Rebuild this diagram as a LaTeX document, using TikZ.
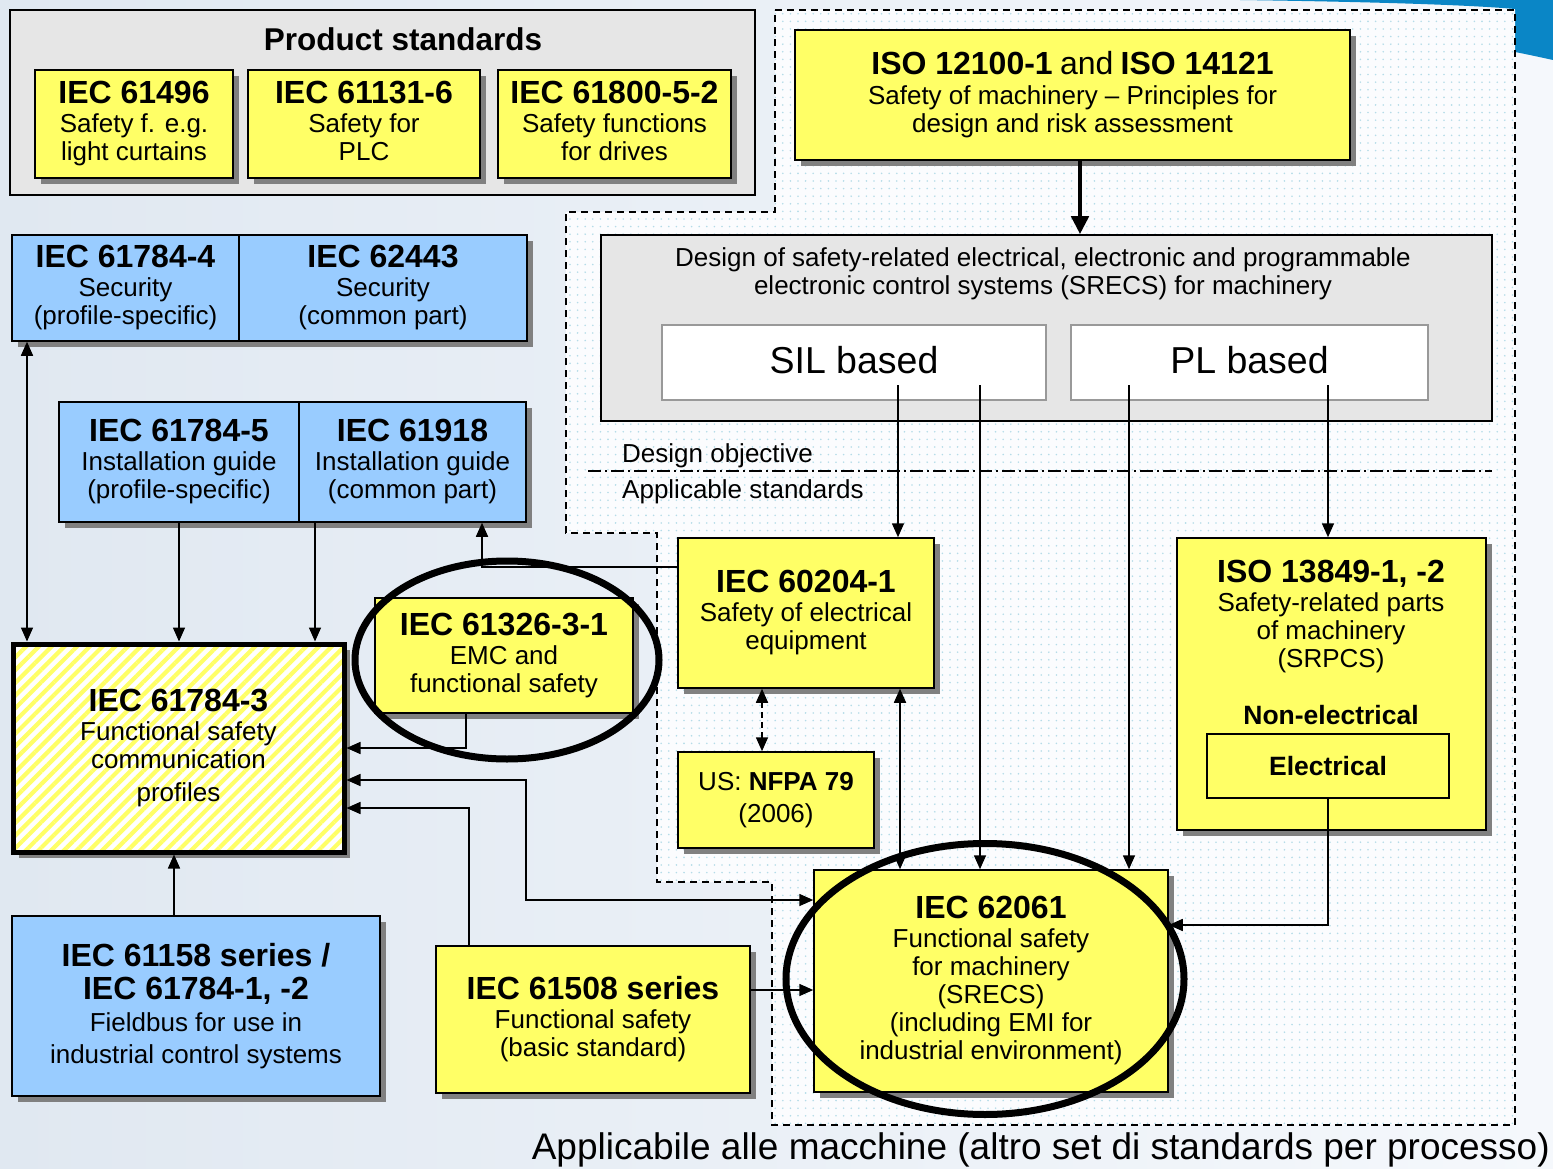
\documentclass[tikz,border=0pt]{standalone}
\usepackage{fontspec}
\setmainfont{Liberation Sans}
\usetikzlibrary{arrows.meta,shapes.geometric,shadows,patterns.meta,calc}
\definecolor{ylw}{HTML}{FFFF66}
\definecolor{blu}{HTML}{99CCFF}
\definecolor{gry}{HTML}{E6E6E6}
\definecolor{shd}{HTML}{808080}
\definecolor{dotc}{HTML}{B5DCE8}
\definecolor{bgl}{HTML}{E0E8F1}
\definecolor{bgr}{HTML}{F5F8FC}
\definecolor{swoosh}{HTML}{0A86C6}
\newcommand{\hd}[1]{{\fontsize{32}{28}\selectfont\bfseries #1}}
\tikzset{
  stdbox/.style={draw=black, line width=1.5pt, align=center, inner sep=0pt,
    font=\fontsize{26}{28}\selectfont,
    drop shadow={shadow xshift=6pt, shadow yshift=-6pt, opacity=1, fill=shd}},
  ybox/.style={stdbox, fill=ylw},
  bbox/.style={stdbox, fill=blu},
  plain/.style={draw=black, line width=1.5pt, inner sep=0pt, align=center},
  txt/.style={inner sep=0pt, align=center, font=\fontsize{26}{28}\selectfont},
  conn/.style={line width=1.6pt, -{Triangle[length=14pt,width=12pt]}},
  conn2/.style={line width=1.6pt, {Triangle[length=14pt,width=12pt]}-{Triangle[length=14pt,width=12pt]}},
  thickarr/.style={line width=4.5pt, -{Triangle[length=18pt,width=17pt]}},
  ring/.style={ellipse, draw=black, line width=7pt, inner sep=0pt},
}
\begin{document}
\begin{tikzpicture}[x=1pt,y=-1pt]
\useasboundingbox (0,0) rectangle (1553,1169);
% background
\shade[left color=bgl, right color=bgr] (0,0) rectangle (1553,1169);
\fill[swoosh] (1240,0) .. controls (1380,2) and (1470,5) .. (1515,9) -- (1515,52) .. controls (1530,55) .. (1553,60) -- (1553,0) -- cycle;
% machinery region
\path[fill=white!60!bgr] (775,10) -- (1515,10) -- (1515,1125) -- (772,1125) -- (772,882) -- (657,882) -- (657,533) -- (566,533) -- (566,212) -- (775,212) -- cycle;
\path[pattern={Dots[distance=7.6pt, radius=0.9pt]}, pattern color=dotc] (775,10) -- (1515,10) -- (1515,1125) -- (772,1125) -- (772,882) -- (657,882) -- (657,533) -- (566,533) -- (566,212) -- (775,212) -- cycle;
\draw[line width=1.6pt, dash pattern=on 7pt off 5pt] (775,10) -- (1515,10) -- (1515,1125) -- (772,1125) -- (772,882) -- (657,882) -- (657,533) -- (566,533) -- (566,212) -- (775,212) -- cycle;

% product standards
\node[plain, fill=gry, minimum width=745pt, minimum height=185pt] (ps) at (382.5,102.5) {};
\node[txt, font=\fontsize{31.5}{32}\selectfont\bfseries] (pst) at (403,39) {Product standards};
\node[ybox, minimum width=198pt, minimum height=108pt] (b61496) at (134,124) {\hd{IEC 61496}\\[1pt]Safety f. e.g.\\light curtains};
\node[ybox, minimum width=232pt, minimum height=108pt] (b61131) at (364,124) {\hd{IEC 61131-6}\\[1pt]Safety for\\PLC\vphantom{g}};
\node[ybox, minimum width=233pt, minimum height=108pt] (b61800) at (614.5,124) {\hd{IEC 61800-5-2}\\[1pt]Safety functions\\for drives\vphantom{g}};

% ISO
\node[ybox, minimum width=555pt, minimum height=130pt] (iso) at (1072.5,95) {\hd{ISO 12100-1} {\fontsize{32}{28}\selectfont and} \hd{ISO 14121}\\[2pt]Safety of machinery – Principles for\\design and risk assessment};

% design box
\node[plain, fill=gry, minimum width=891pt, minimum height=186pt] (design) at (1046.5,328) {};
\node[txt] (destxt) at (1043,274) {Design of safety-related electrical, electronic and programmable\\electronic control systems (SRECS) for machinery};
\node[draw=black!40, line width=2pt, fill=white, minimum width=384pt, minimum height=75pt, font=\fontsize{37.5}{40}\selectfont] (sil) at (854,362.5) {\raisebox{5pt}{SIL based}};
\node[draw=black!40, line width=2pt, fill=white, minimum width=357pt, minimum height=75pt, font=\fontsize{37.5}{40}\selectfont] (pl) at (1249.5,362.5) {\raisebox{5pt}{PL based}};

% design objective line
\coordinate (dl) at (588,471);
\coordinate (dr) at (1492,471);
\draw[line width=1.4pt, dash pattern=on 13pt off 4pt on 2pt off 4pt] (dl) -- (dr);
\node[txt, anchor=west] (dobj) at (622,456) {Design objective};
\node[txt, anchor=west] (appl) at (622,492) {Applicable standards};

% applicable standards
\node[ybox, minimum width=256pt, minimum height=150pt] (b60204) at (806,613) {\hd{IEC 60204-1}\\[1pt]Safety of electrical\\equipment};
\node[ybox, minimum width=196pt, minimum height=96pt] (nfpa) at (776,800) {US: \textbf{NFPA 79}\\[4pt](2006)};
\node[ybox, minimum width=354pt, minimum height=222pt] (b62061) at (991,981) {\hd{IEC 62061}\\[1pt]Functional safety\\for machinery\\(SRECS)\\(including EMI for\\industrial environment)};
\node[ybox, minimum width=309pt, minimum height=292pt] (b13849) at (1331.5,684) {};
\node[txt] (t13849) at (1331,617) {\hd{ISO 13849-1, -2}\\[1pt]Safety-related parts\\of machinery\\(SRPCS)};
\node[txt, font=\fontsize{26.5}{28}\selectfont\bfseries] (nonel) at (1331,715) {Non-electrical};
\node[plain, minimum width=242pt, minimum height=64pt, font=\fontsize{26.5}{28}\selectfont\bfseries] (elec) at (1328,766) {\raisebox{-3pt}{Electrical}};
\node[ybox, minimum width=314pt, minimum height=147pt] (b61508) at (593,1019.5) {\hd{IEC 61508 series}\\[1pt]Functional safety\\(basic standard)};
\node[ybox, minimum width=258pt, minimum height=115pt] (b61326) at (504,655.5) {\hd{IEC 61326-3-1}\\[1pt]EMC and\\functional safety};

% blue boxes
\node[bbox, minimum width=227pt, minimum height=106pt] (b617844) at (125.5,288) {\hd{IEC 61784-4}\\[1pt]Security\\(profile-specific)};
\node[bbox, minimum width=288pt, minimum height=106pt] (b62443) at (383,288) {\hd{IEC 62443}\\[1pt]Security\\(common part)};
\node[bbox, minimum width=240pt, minimum height=120pt] (b617845) at (179,462) {\hd{IEC 61784-5}\\[1pt]Installation guide\\(profile-specific)};
\node[bbox, minimum width=227pt, minimum height=120pt] (b61918) at (412.5,462) {\hd{IEC 61918}\\[1pt]Installation guide\\(common part)};
\node[stdbox, line width=5pt, minimum width=331pt, minimum height=208pt,
  preaction={fill=white},
  preaction={pattern={Lines[angle=45,distance=9pt,line width=4.2pt]}, pattern color=ylw}] (b617843) at (178.5,748) {\hd{IEC 61784-3}\\[1pt]Functional safety\\communication\\[5pt]profiles};
\node[bbox, minimum width=368pt, minimum height=180pt] (b61158) at (196,1006) {\hd{IEC 61158 series /}\\[5pt]\hd{IEC 61784-1, -2}\\[4pt]Fieldbus for use in\\[4pt]industrial control systems};

% helper coordinates
\coordinate (cA) at (1080,0);
\coordinate (s1) at (898,385);
\coordinate (s2) at (980,385);
\coordinate (p1) at (1129,385);
\coordinate (p2) at (1328,385);
\coordinate (c900) at (900,0);
\coordinate (c762) at (762,0);
\coordinate (r925) at (0,925);
\coordinate (r990) at (0,990);
\coordinate (c469) at (469,0);
\coordinate (r808) at (0,808);
\coordinate (r780) at (0,780);
\coordinate (c526) at (526,0);
\coordinate (r900) at (0,900);
\coordinate (c466) at (466,0);
\coordinate (r748) at (0,748);
\coordinate (r567) at (0,567);
\coordinate (c482) at (482,0);
\coordinate (c27) at (27,0);
\coordinate (c315) at (315,0);
\coordinate (c174) at (174,0);

% connectors
\draw[thickarr] (iso.south -| cA) -- (design.north -| cA);
\draw[conn] (s1) -- (b60204.north -| s1);
\draw[conn] (s2) -- (b62061.north -| s2);
\draw[conn] (p1) -- (b62061.north -| p1);
\draw[conn] (p2) -- (b13849.north -| p2);
\draw[conn2] (b60204.south -| c900) -- (b62061.north -| c900);
\draw[conn2, dash pattern=on 6pt off 4pt] (b60204.south -| c762) -- (nfpa.north -| c762);
\draw[conn] (elec.south) |- (b62061.east |- r925);
\draw[conn] (b61508.east |- r990) -- (b62061.west |- r990);
\draw[conn] (b61508.north -| c469) |- (b617843.east |- r808);
\draw[conn2] (b617843.east |- r780) -| (c526 |- r900) -- (b62061.west |- r900);
\draw[conn] (b61326.south -| c466) |- (b617843.east |- r748);
\draw[conn] (b60204.west |- r567) -| (b61918.south -| c482);
\draw[conn2] (b617844.south -| c27) -- (b617843.north -| c27);
\draw[conn] (b617845.south) -- (b617843.north -| b617845.south);
\draw[conn] (b61918.south -| c315) -- (b617843.north -| c315);
\draw[conn] (b61158.north -| c174) -- (b617843.south -| c174);

% highlight rings
\node[ring, minimum width=304pt, minimum height=198pt] (ring1) at (507,660) {};
\node[ring, minimum width=398pt, minimum height=271pt] (ring2) at (985,979) {};

% footer
\node[txt, anchor=east, font=\fontsize{37}{40}\selectfont] (foot) at (1550,1150) {Applicabile alle macchine (altro set di standards per processo)};
\end{tikzpicture}
\end{document}
